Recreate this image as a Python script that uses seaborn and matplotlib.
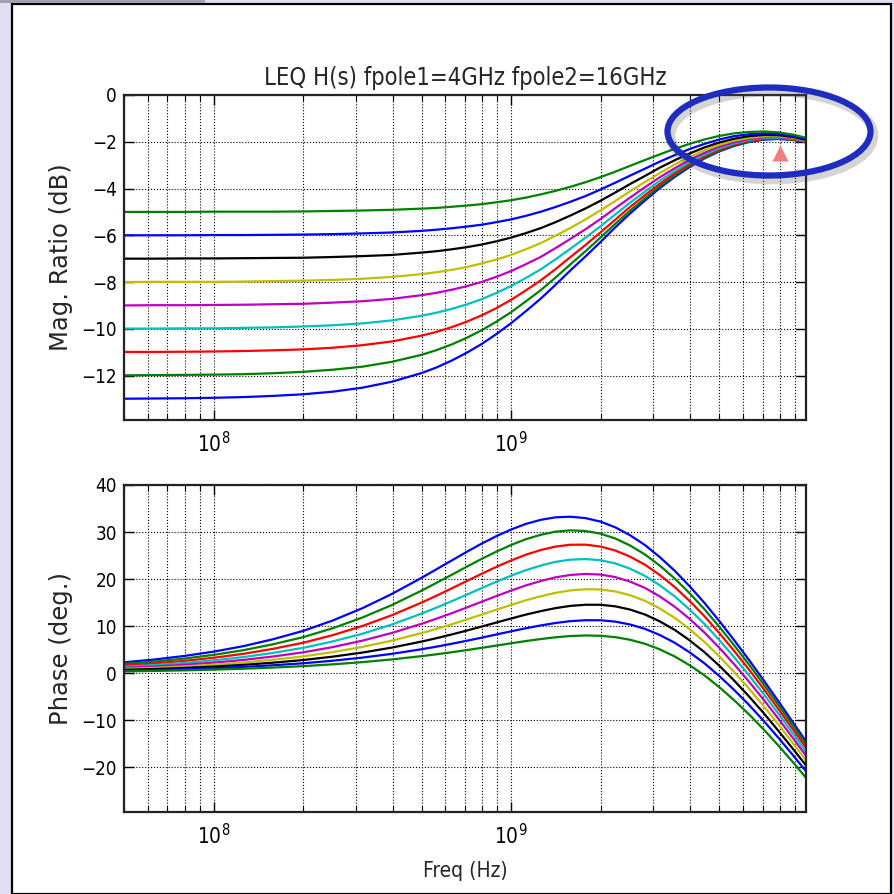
import matplotlib
matplotlib.use("Agg")
import matplotlib.pyplot as plt
from matplotlib.patches import Ellipse, Rectangle
import seaborn as sns
import pandas as pd

freq_hz = [5.0e7, 6.31e7, 7.94e7, 1.0e8, 1.26e8, 1.58e8, 2.0e8, 2.51e8, 3.16e8, 3.98e8,
           5.01e8, 5.62e8, 6.31e8, 7.08e8, 7.94e8, 8.91e8, 1.0e9, 1.12e9, 1.26e9, 1.41e9,
           1.58e9, 1.78e9, 2.0e9, 2.24e9, 2.51e9, 2.82e9, 3.16e9, 3.55e9, 3.98e9, 4.47e9,
           5.01e9, 5.62e9, 6.31e9, 7.08e9, 7.94e9, 8.91e9, 1.0e10]

# DC gain of each curve (dB), in plotting order
dc_gain_db = [-13, -12, -11, -10, -9, -8, -7, -6, -5]

# Magnitude ratio readings (dB)
mag_m13 = [-12.99, -12.98, -12.97, -12.95, -12.92, -12.87, -12.80, -12.69, -12.52, -12.26,
           -11.89, -11.65, -11.36, -11.03, -10.66, -10.23, -9.76, -9.25, -8.70, -8.12,
           -7.51, -6.90, -6.28, -5.66, -5.07, -4.51, -3.98, -3.50, -3.08, -2.71,
           -2.41, -2.18, -2.01, -1.91, -1.88, -1.93, -2.04]
mag_m12 = [-11.99, -11.98, -11.97, -11.96, -11.94, -11.90, -11.84, -11.75, -11.62, -11.41,
           -11.11, -10.91, -10.67, -10.39, -10.07, -9.70, -9.29, -8.83, -8.34, -7.81,
           -7.25, -6.68, -6.09, -5.51, -4.95, -4.41, -3.90, -3.44, -3.02, -2.67,
           -2.38, -2.15, -1.99, -1.89, -1.87, -1.92, -2.03]
mag_m11 = [-10.99, -10.99, -10.98, -10.97, -10.95, -10.92, -10.88, -10.81, -10.70, -10.54,
           -10.29, -10.13, -9.93, -9.70, -9.43, -9.12, -8.76, -8.36, -7.92, -7.45,
           -6.94, -6.41, -5.87, -5.33, -4.79, -4.28, -3.80, -3.35, -2.96, -2.62,
           -2.33, -2.11, -1.96, -1.87, -1.85, -1.90, -2.02]
mag_m10 = [-9.99, -9.99, -9.98, -9.98, -9.96, -9.94, -9.90, -9.85, -9.77, -9.64,
           -9.44, -9.31, -9.15, -8.96, -8.74, -8.47, -8.17, -7.83, -7.45, -7.03,
           -6.58, -6.10, -5.61, -5.11, -4.61, -4.13, -3.67, -3.25, -2.87, -2.55,
           -2.28, -2.07, -1.92, -1.84, -1.83, -1.88, -2.01]
mag_m9 = [-9.00, -8.99, -8.99, -8.98, -8.97, -8.95, -8.93, -8.88, -8.82, -8.72,
          -8.56, -8.46, -8.33, -8.18, -8.00, -7.78, -7.53, -7.24, -6.92, -6.55,
          -6.16, -5.74, -5.30, -4.84, -4.39, -3.94, -3.52, -3.13, -2.77, -2.47,
          -2.21, -2.02, -1.88, -1.81, -1.80, -1.86, -1.99]
mag_m8 = [-8.00, -7.99, -7.99, -7.99, -7.98, -7.96, -7.94, -7.91, -7.86, -7.78,
          -7.66, -7.58, -7.48, -7.36, -7.21, -7.04, -6.84, -6.60, -6.33, -6.02,
          -5.69, -5.32, -4.93, -4.53, -4.12, -3.72, -3.34, -2.97, -2.65, -2.36,
          -2.13, -1.95, -1.83, -1.77, -1.77, -1.83, -1.97]
mag_m7 = [-7.00, -7.00, -6.99, -6.99, -6.98, -6.97, -6.96, -6.93, -6.89, -6.84,
          -6.74, -6.68, -6.60, -6.51, -6.40, -6.26, -6.10, -5.91, -5.69, -5.44,
          -5.16, -4.85, -4.52, -4.17, -3.81, -3.46, -3.11, -2.79, -2.50, -2.24,
          -2.03, -1.87, -1.76, -1.71, -1.72, -1.80, -1.94]
mag_m6 = [-6.00, -6.00, -6.00, -5.99, -5.99, -5.98, -5.97, -5.95, -5.92, -5.88,
          -5.81, -5.76, -5.70, -5.63, -5.55, -5.44, -5.32, -5.17, -4.99, -4.79,
          -4.57, -4.32, -4.04, -3.75, -3.45, -3.15, -2.85, -2.57, -2.31, -2.09,
          -1.90, -1.76, -1.68, -1.64, -1.67, -1.76, -1.91]
mag_m5 = [-5.00, -5.00, -5.00, -4.99, -4.99, -4.99, -4.98, -4.96, -4.94, -4.91,
          -4.86, -4.83, -4.78, -4.73, -4.67, -4.59, -4.50, -4.39, -4.25, -4.10,
          -3.93, -3.73, -3.51, -3.28, -3.03, -2.78, -2.54, -2.30, -2.09, -1.90,
          -1.75, -1.64, -1.58, -1.56, -1.60, -1.70, -1.86]

# Phase readings (deg.)
ph_m13 = [2.31, 2.90, 3.65, 4.58, 5.75, 7.20, 8.99, 11.18, 13.80, 16.86,
          20.30, 22.11, 23.94, 25.76, 27.50, 29.11, 30.54, 31.72, 32.61, 33.13,
          33.26, 32.96, 32.21, 31.00, 29.33, 27.22, 24.68, 21.76, 18.49, 14.91,
          11.08, 7.02, 2.78, -1.60, -6.10, -10.68, -15.32]
ph_m12 = [1.96, 2.46, 3.10, 3.89, 4.89, 6.13, 7.66, 9.54, 11.82, 14.50,
          17.57, 19.22, 20.90, 22.60, 24.25, 25.82, 27.25, 28.47, 29.43, 30.08,
          30.36, 30.22, 29.65, 28.63, 27.15, 25.22, 22.87, 20.12, 17.00, 13.57,
          9.87, 5.93, 1.81, -2.47, -6.88, -11.37, -15.94]
ph_m11 = [1.65, 2.07, 2.61, 3.28, 4.12, 5.17, 6.47, 8.07, 10.02, 12.34,
          15.03, 16.49, 18.01, 19.56, 21.09, 22.58, 23.96, 25.18, 26.19, 26.91,
          27.30, 27.32, 26.91, 26.07, 24.78, 23.04, 20.87, 18.30, 15.36, 12.08,
          8.53, 4.73, 0.73, -3.44, -7.75, -12.15, -16.63]
ph_m10 = [1.37, 1.73, 2.17, 2.73, 3.43, 4.30, 5.39, 6.74, 8.38, 10.36,
          12.68, 13.95, 15.29, 16.66, 18.05, 19.42, 20.72, 21.89, 22.89, 23.66,
          24.13, 24.26, 24.01, 23.33, 22.22, 20.67, 18.69, 16.31, 13.54, 10.44,
          7.04, 3.39, -0.48, -4.53, -8.72, -13.02, -17.41]
ph_m9 = [1.13, 1.42, 1.78, 2.24, 2.82, 3.54, 4.43, 5.54, 6.91, 8.56,
         10.51, 11.60, 12.74, 13.94, 15.16, 16.38, 17.55, 18.65, 19.60, 20.37,
         20.88, 21.09, 20.96, 20.43, 19.48, 18.11, 16.32, 14.12, 11.55, 8.62,
         5.40, 1.90, -1.82, -5.73, -9.80, -13.99, -18.28]
ph_m8 = [0.91, 1.14, 1.43, 1.80, 2.27, 2.85, 3.57, 4.47, 5.58, 6.93,
         8.53, 9.43, 10.39, 11.40, 12.44, 13.48, 14.51, 15.49, 16.36, 17.08,
         17.59, 17.85, 17.79, 17.38, 16.58, 15.38, 13.76, 11.75, 9.37, 6.63,
         3.58, 0.25, -3.31, -7.07, -11.01, -15.07, -19.25]
ph_m7 = [0.71, 0.89, 1.12, 1.41, 1.78, 2.23, 2.80, 3.51, 4.38, 5.45,
         6.73, 7.45, 8.23, 9.04, 9.89, 10.76, 11.62, 12.45, 13.20, 13.83,
         14.30, 14.55, 14.54, 14.21, 13.53, 12.47, 11.02, 9.20, 7.00, 4.45,
         1.59, -1.56, -4.96, -8.56, -12.35, -16.28, -20.33]
ph_m6 = [0.53, 0.67, 0.85, 1.07, 1.34, 1.68, 2.11, 2.65, 3.31, 4.12,
         5.10, 5.65, 6.25, 6.88, 7.54, 8.22, 8.90, 9.55, 10.16, 10.67,
         11.06, 11.26, 11.25, 10.96, 10.36, 9.42, 8.12, 6.46, 4.44, 2.08,
         -0.60, -3.56, -6.77, -10.21, -13.83, -17.62, -21.54]
ph_m5 = [0.38, 0.48, 0.60, 0.76, 0.95, 1.19, 1.50, 1.88, 2.35, 2.93,
         3.63, 4.02, 4.45, 4.90, 5.38, 5.86, 6.36, 6.83, 7.26, 7.63,
         7.90, 8.02, 7.95, 7.66, 7.11, 6.25, 5.07, 3.55, 1.70, -0.48,
         -2.97, -5.74, -8.77, -12.02, -15.48, -19.11, -22.88]

# red marker near the peaking region
marker_freq = 8e9
marker_db = -2.5

mag_curves = [mag_m13, mag_m12, mag_m11, mag_m10, mag_m9, mag_m8, mag_m7, mag_m6, mag_m5]
phase_curves = [ph_m13, ph_m12, ph_m11, ph_m10, ph_m9, ph_m8, ph_m7, ph_m6, ph_m5]

# old matplotlib cycle b, g, r, c, m, y, k
curve_colors = ["#0000ff", "#008000", "#ff0000", "#00bfbf", "#bf00bf",
                "#bfbf00", "#000000", "#0000ff", "#008000"]

rows = []
for gain, mags, phases in zip(dc_gain_db, mag_curves, phase_curves):
    for f, m, p in zip(freq_hz, mags, phases):
        rows.append({"freq": f, "mag": m, "phase": p, "curve": f"{gain} dB"})
df = pd.DataFrame(rows)
curve_order = [f"{g} dB" for g in dc_gain_db]

sns.set_style("white")
plt.rcParams["font.family"] = ["DejaVu Sans"]
plt.rcParams["font.stretch"] = "condensed"
plt.rcParams.update({
    "xtick.direction": "in", "ytick.direction": "in",
    "xtick.top": True, "ytick.right": True,
    "xtick.bottom": True, "ytick.left": True,
    "xtick.color": "k", "ytick.color": "k",
    "axes.edgecolor": "#222222",
})

W, H = 895, 894
fig = plt.figure(figsize=(W / 100, H / 100), dpi=100)
fig.patch.set_facecolor("#e4def4")

# screenshot frame
fig.add_artist(Rectangle((12.5 / W, 0), (891 - 12.5) / W, 1 - 3.5 / H,
                         transform=fig.transFigure, facecolor="white",
                         edgecolor="black", lw=1.6, zorder=-2))
fig.add_artist(Rectangle((0, 1 - 2.5 / H), 205 / W, 2.5 / H,
                         transform=fig.transFigure, facecolor="#a3a1ae",
                         edgecolor="none", zorder=-1))

ax1 = fig.add_axes([124 / W, 1 - 420 / H, 682 / W, 325 / H])
ax2 = fig.add_axes([124 / W, 1 - 812 / H, 682 / W, 327 / H])

for ax, col in ((ax1, "mag"), (ax2, "phase")):
    sns.lineplot(data=df, x="freq", y=col, hue="curve", hue_order=curve_order,
                 palette=curve_colors, legend=False, linewidth=1.6,
                 estimator=None, ax=ax)
    ax.set_xscale("log")
    ax.set_xlim(5e7, 9.8e9)
    ax.grid(True, which="major", color="k", linestyle=":", linewidth=0.8)
    ax.grid(True, which="minor", axis="x", color="k", linestyle=":", linewidth=0.8)
    for s in ax.spines.values():
        s.set_linewidth(1.6)
    ax.tick_params(which="major", length=7, width=1, labelsize=13.5, pad=5)
    ax.tick_params(axis="x", which="major", labelsize=15, pad=8)
    ax.tick_params(which="minor", length=4, width=0.8)
    ax.set_xlabel("")

ax1.set_ylim(-13.9, 0)
ax1.set_yticks(range(-12, 1, 2))
ax2.set_ylim(-29.5, 40)
ax2.set_yticks(range(-20, 41, 10))

ax1.plot([marker_freq], [marker_db], marker="^", markersize=11, color="#f27f7f",
         markeredgecolor="none", linestyle="none", clip_on=False, zorder=5)

ax1.set_title("LEQ H(s) fpole1=4GHz fpole2=16GHz", fontsize=17, pad=7)
ax1.set_ylabel("Mag. Ratio (dB)", fontsize=17.5, fontstretch="normal")
ax2.set_ylabel("Phase (deg.)", fontsize=17.5, fontstretch="normal")
ax1.yaxis.set_label_coords(-0.075, 0.5)
ax2.yaxis.set_label_coords(-0.075, 0.5)
ax2.set_xlabel("Freq (Hz)", fontsize=15)
ax2.xaxis.set_label_coords(0.5, -0.15)
ax2.xaxis.label.set_va("top")

# highlight ellipse with a soft shadow
ell_c = (769 / W, 1 - 131.5 / H)
fig.add_artist(Ellipse((ell_c[0] + 3 / W, ell_c[1] - 4 / H), 203 / W, 88 / H,
                       transform=fig.transFigure, fill=False, edgecolor="#555555",
                       lw=7, alpha=0.25, zorder=9))
fig.add_artist(Ellipse(ell_c, 203 / W, 88 / H, transform=fig.transFigure,
                       fill=False, edgecolor="#1e2cc0", lw=4.5, zorder=10))

fig.savefig("out.png", dpi=100)
